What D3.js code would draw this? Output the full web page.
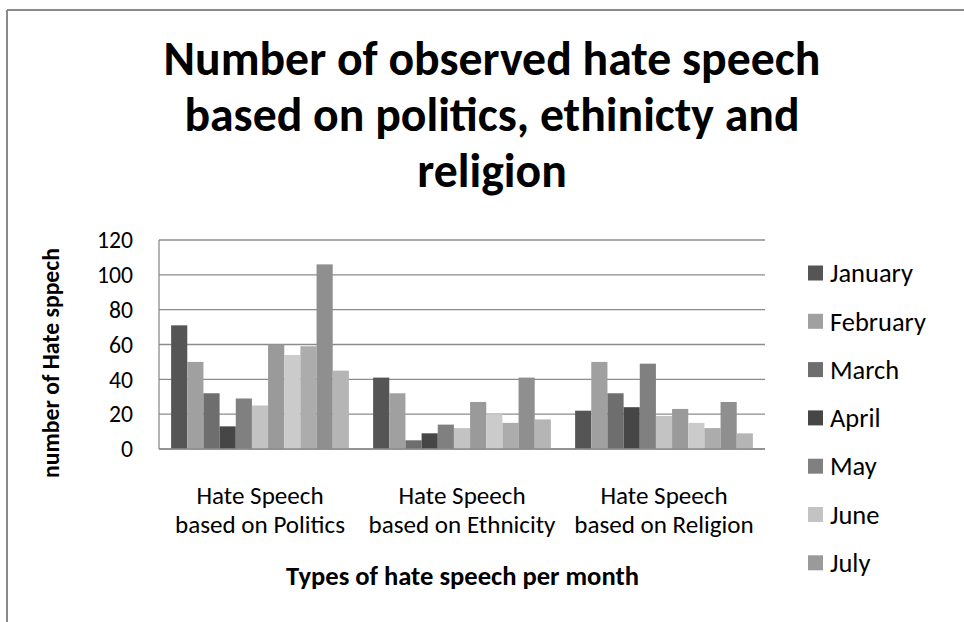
<!DOCTYPE html>
<html>
<head>
<meta charset="utf-8">
<script src="https://cdn.jsdelivr.net/npm/d3@7"></script>
<style>
  html, body { margin: 0; padding: 0; background: #fff; }
  svg { display: block; font-family: Carlito, Calibri, Lato, sans-serif; }
</style>
</head>
<body>
<svg id="chart" width="964" height="622"></svg>
<script>
// Hate speech types (x categories) and monthly counts
const categories = [
  ["Hate Speech", "based on Politics"],
  ["Hate Speech", "based on Ethnicity"],
  ["Hate Speech", "based on Religion"]
];
const months = ["January", "February", "March", "April", "May", "June", "July",
                "August", "September", "October", "November"];
const politics  = [71, 50, 32, 13, 29, 25, 60, 54, 59, 106, 45];
const ethnicity = [41, 32, 5, 9, 14, 12, 27, 20, 15, 41, 17];
const religion  = [22, 50, 32, 24, 49, 19, 23, 15, 12, 27, 9];
const monthColors = ["#555555", "#a0a0a0", "#6e6e6e", "#464646", "#808080", "#c3c3c3",
                     "#9a9a9a", "#cbcbcb", "#acacac", "#8f8f8f", "#b5b5b5"];
const yTicks = [0, 20, 40, 60, 80, 100, 120];
const titleLines = ["Number of observed hate speech", "based on politics, ethinicty and", "religion"];
const xTitle = "Types of hate speech per month";
const yTitle = "number of Hate sppech";
// Legend box only has room for the first seven months
const legendCount = 7;

const seriesByCategory = [politics, ethnicity, religion];

const svg = d3.select("#chart");
const plot = { left: 159, right: 765, top: 240, bottom: 449 };

// Font size that makes a sample string span the given width
function fitSize(sample, width, bold) {
  const t = svg.append("text").attr("font-size", 20)
    .attr("font-weight", bold ? "bold" : "normal").text(sample);
  const w = t.node().getComputedTextLength();
  t.remove();
  return 20 * width / w;
}
const titleSize = fitSize(titleLines[0], 657, true);
const xTitleSize = fitSize(xTitle, 353, true);
const yTitleSize = fitSize(yTitle, 230, true);
const catSize = fitSize("based on Ethnicity", 187, false);
const legendSize = fitSize("February", 96, false);
const tickSize = fitSize("120", 36, false);

// Outer chart frame (left and top edges visible)
svg.append("line").attr("x1", 7).attr("x2", 7).attr("y1", 10).attr("y2", 622)
  .attr("stroke", "#8a8a8a").attr("stroke-width", 2);
svg.append("line").attr("x1", 7).attr("x2", 964).attr("y1", 10).attr("y2", 10)
  .attr("stroke", "#8a8a8a").attr("stroke-width", 2);

// Title
const titleY = [75, 131, 187];
titleLines.forEach((t, i) => {
  svg.append("text").attr("x", 492).attr("y", titleY[i])
    .attr("text-anchor", "middle").attr("font-weight", "bold")
    .attr("font-size", titleSize).attr("fill", "#000").text(t);
});

const y = d3.scaleLinear().domain([0, 120]).range([plot.bottom, plot.top]);
const x0 = d3.scaleBand().domain(d3.range(categories.length))
  .range([plot.left, plot.right]).paddingInner(0).paddingOuter(0);
const groupW = x0.bandwidth();
const barW = groupW / (months.length + 1.5);
const x1 = d3.scaleBand().domain(d3.range(months.length))
  .range([barW * 0.75, groupW - barW * 0.75]).padding(0);

// Gridlines
svg.append("g").selectAll("line").data(yTicks).join("line")
  .attr("x1", plot.left).attr("x2", plot.right)
  .attr("y1", d => y(d)).attr("y2", d => y(d))
  .attr("stroke", "#8c8c8c").attr("stroke-width", 1.3);

// Bars
const groups = svg.append("g").selectAll("g").data(seriesByCategory).join("g")
  .attr("transform", (d, i) => `translate(${x0(i)},0)`);
groups.selectAll("rect").data(d => d).join("rect")
  .attr("x", (d, j) => x1(j))
  .attr("width", x1.bandwidth())
  .attr("y", d => y(d))
  .attr("height", d => y(0) - y(d))
  .attr("fill", (d, j) => monthColors[j]);

// Axis lines
svg.append("line").attr("x1", plot.left).attr("x2", plot.left)
  .attr("y1", plot.top).attr("y2", plot.bottom)
  .attr("stroke", "#8c8c8c").attr("stroke-width", 1.3);
svg.append("line").attr("x1", plot.left).attr("x2", plot.right)
  .attr("y1", plot.bottom).attr("y2", plot.bottom)
  .attr("stroke", "#8c8c8c").attr("stroke-width", 1.6);

// Y tick labels
svg.append("g").selectAll("text").data(yTicks).join("text")
  .attr("x", 133).attr("y", d => y(d)).attr("dy", "0.35em")
  .attr("text-anchor", "end").attr("font-size", tickSize).attr("fill", "#000")
  .text(d => d);

// Category labels
categories.forEach((lines, i) => {
  const cx = x0(i) + groupW / 2;
  lines.forEach((t, k) => {
    svg.append("text").attr("x", cx).attr("y", 504 + k * 29)
      .attr("text-anchor", "middle").attr("font-size", catSize).attr("fill", "#000").text(t);
  });
});

// Axis titles
svg.append("text").attr("x", (plot.left + plot.right) / 2 + 0.5).attr("y", 585)
  .attr("text-anchor", "middle").attr("font-weight", "bold").attr("font-size", xTitleSize)
  .attr("fill", "#000").text(xTitle);
svg.append("text").attr("transform", "translate(59,363) rotate(-90)")
  .attr("text-anchor", "middle").attr("font-weight", "bold").attr("font-size", yTitleSize)
  .attr("fill", "#000").text(yTitle);

// Legend
const legend = svg.append("g").selectAll("g").data(months.slice(0, legendCount)).join("g")
  .attr("transform", (d, i) => `translate(808,${273 + i * 48.3})`);
legend.append("rect").attr("x", 0).attr("y", -7.5).attr("width", 15).attr("height", 15)
  .attr("fill", (d, i) => monthColors[i]);
legend.append("text").attr("x", 22).attr("y", 0).attr("dy", "0.35em")
  .attr("font-size", legendSize).attr("fill", "#000").text(d => d);
</script>
</body>
</html>
